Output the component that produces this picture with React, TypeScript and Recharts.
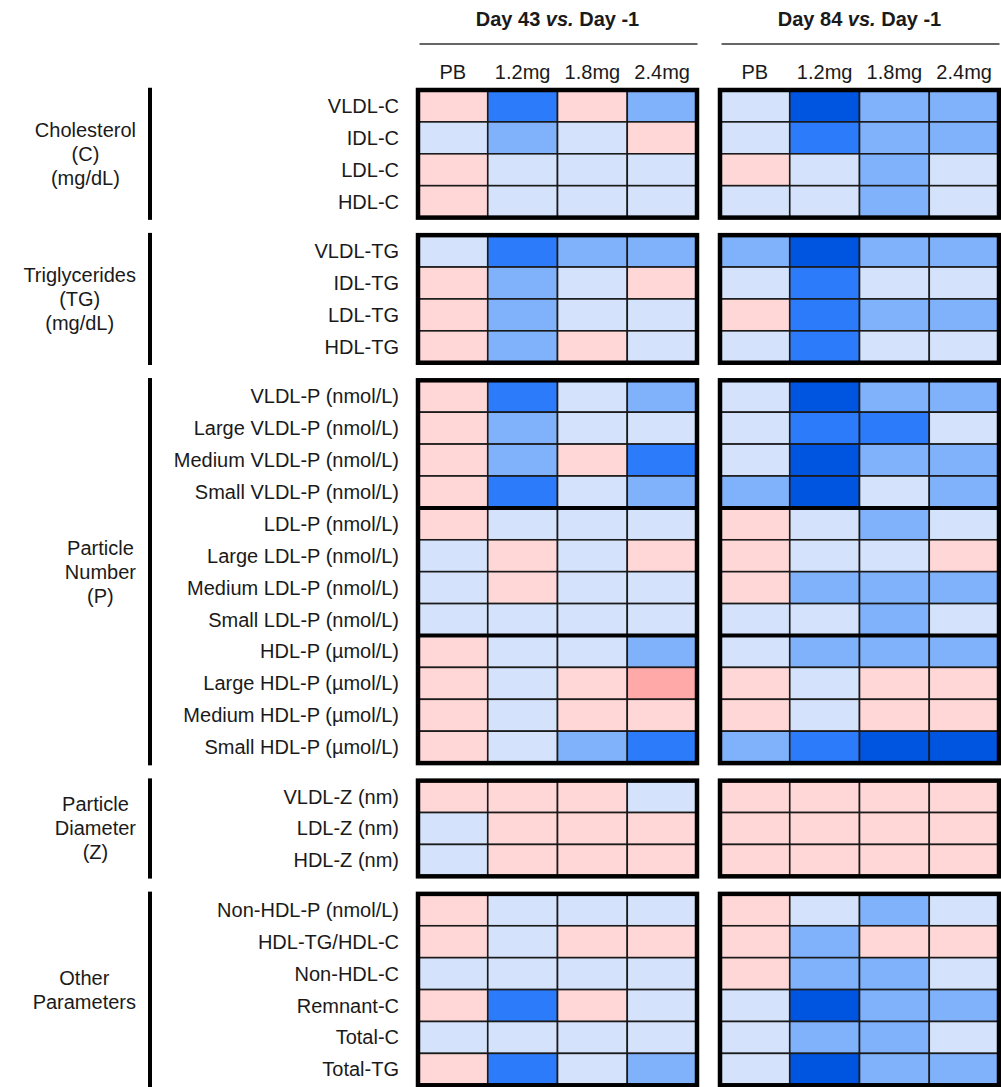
import { Scatter, ScatterChart, XAxis, YAxis } from "recharts";

const FONT = "'Liberation Sans', Arial, Helvetica, sans-serif";
const INK = "#1a1a1a";

const doseColumns = ["PB", "1.2mg", "1.8mg", "2.4mg"];
const comparisonDays = ["Day 43", "Day 84"];
const baselineDay = "Day -1";

const groupTitles = [
  ["Cholesterol", "(C)", "(mg/dL)"],
  ["Triglycerides", "(TG)", "(mg/dL)"],
  ["Particle", "Number", "(P)"],
  ["Particle", "Diameter", "(Z)"],
  ["Other", "Parameters"],
];

const cholesterolRows = ["VLDL-C", "IDL-C", "LDL-C", "HDL-C"];
const triglycerideRows = ["VLDL-TG", "IDL-TG", "LDL-TG", "HDL-TG"];
const particleRows = [
  "VLDL-P (nmol/L)",
  "Large VLDL-P (nmol/L)",
  "Medium VLDL-P (nmol/L)",
  "Small VLDL-P (nmol/L)",
  "LDL-P (nmol/L)",
  "Large LDL-P (nmol/L)",
  "Medium LDL-P (nmol/L)",
  "Small LDL-P (nmol/L)",
  "HDL-P (µmol/L)",
  "Large HDL-P (µmol/L)",
  "Medium HDL-P (µmol/L)",
  "Small HDL-P (µmol/L)",
];
const diameterRows = ["VLDL-Z (nm)", "LDL-Z (nm)", "HDL-Z (nm)"];
const otherRows = [
  "Non-HDL-P (nmol/L)",
  "HDL-TG/HDL-C",
  "Non-HDL-C",
  "Remnant-C",
  "Total-C",
  "Total-TG",
];

// change level: -4 strongest decrease ... -1 slight decrease, 1 slight increase, 2 larger increase
// each row: [PB, 1.2mg, 1.8mg, 2.4mg]
const cholesterolDay43 = [[1, -3, 1, -2], [-1, -2, -1, 1], [1, -1, -1, -1], [1, -1, -1, -1]];
const cholesterolDay84 = [[-1, -4, -2, -2], [-1, -3, -2, -2], [1, -1, -2, -1], [-1, -1, -2, -1]];
const triglycerideDay43 = [[-1, -3, -2, -2], [1, -2, -1, 1], [1, -2, -1, -1], [1, -2, 1, -1]];
const triglycerideDay84 = [[-2, -4, -2, -2], [-1, -3, -1, -1], [1, -3, -2, -2], [-1, -3, -1, -1]];
const particleDay43 = [
  [1, -3, -1, -2],
  [1, -2, -1, -1],
  [1, -2, 1, -3],
  [1, -3, -1, -2],
  [1, -1, -1, -1],
  [-1, 1, -1, 1],
  [-1, 1, -1, -1],
  [-1, -1, -1, -1],
  [1, -1, -1, -2],
  [1, -1, 1, 2],
  [1, -1, 1, 1],
  [1, -1, -2, -3],
];
const particleDay84 = [
  [-1, -4, -2, -2],
  [-1, -3, -3, -1],
  [-1, -4, -2, -2],
  [-2, -4, -1, -2],
  [1, -1, -2, -1],
  [1, -1, -1, 1],
  [1, -2, -2, -2],
  [-1, -1, -2, -1],
  [-1, -2, -2, -2],
  [1, -1, 1, 1],
  [1, -1, 1, 1],
  [-2, -3, -4, -4],
];
const diameterDay43 = [[1, 1, 1, -1], [-1, 1, 1, 1], [-1, 1, 1, 1]];
const diameterDay84 = [[1, 1, 1, 1], [1, 1, 1, 1], [1, 1, 1, 1]];
const otherDay43 = [[1, -1, -1, -1], [1, -1, 1, 1], [-1, -1, -1, -1], [1, -3, 1, -1], [-1, -1, -1, -1], [1, -3, -1, -2]];
const otherDay84 = [[1, -1, -2, -1], [1, -2, 1, 1], [1, -2, -2, -1], [-1, -4, -2, -2], [-1, -2, -2, -1], [-1, -4, -2, -2]];

// rows after which the particle block gets a heavy separator
const particleBreaks = [4, 8];

const groups = [
  { rows: cholesterolRows, values: [cholesterolDay43, cholesterolDay84], breaks: [] as number[] },
  { rows: triglycerideRows, values: [triglycerideDay43, triglycerideDay84], breaks: [] as number[] },
  { rows: particleRows, values: [particleDay43, particleDay84], breaks: particleBreaks },
  { rows: diameterRows, values: [diameterDay43, diameterDay84], breaks: [] as number[] },
  { rows: otherRows, values: [otherDay43, otherDay84], breaks: [] as number[] },
];

function levelColor(level: number) {
  if (level <= -4) return "#0055E0";
  if (level === -3) return "#2B7BFA";
  if (level === -2) return "#80B2FC";
  if (level === -1) return "#D4E3FB";
  if (level === 1) return "#FFD7D7";
  return "#FFA9A9";
}

// layout
const CHART_W = 1001;
const CHART_H = 1087;
const CELL_PX = 69.75;
const ROW_PX = 31.9;
const PANEL_GAP = 23 / CELL_PX;
const GROUP_GAP = 0.55;
const X_MAX = doseColumns.length * 2 + PANEL_GAP;
const COL_AXIS_H = 38;
const TITLE_AXIS_H = 52;
const ROW_AXIS_W = 258;
const GROUP_AXIS_W = 160;

const groupStarts: number[] = [];
let cursor = 0;
groups.forEach((g, i) => {
  groupStarts.push(cursor);
  cursor += g.rows.length + (i < groups.length - 1 ? GROUP_GAP : 0);
});
const Y_MAX = cursor;
const BOTTOM_MARGIN = CHART_H - COL_AXIS_H - TITLE_AXIS_H - Y_MAX * ROW_PX;

const panelX = (p: number) => p * (doseColumns.length + PANEL_GAP);

const cells: { x: number; y: number; level: number }[] = [];
const frames: { x: number; y: number; rows: number }[] = [];
const dividers: { x: number; y: number }[] = [];
const rowTicks: number[] = [];
const rowNames: string[] = [];
const groupTicks: number[] = [];
const rowAnchors: { x: number; y: number }[] = [];

groups.forEach((g, gi) => {
  const start = groupStarts[gi];
  groupTicks.push(start + g.rows.length / 2);
  g.rows.forEach((name, ri) => {
    rowTicks.push(start + ri + 0.5);
    rowNames.push(name);
    rowAnchors.push({ x: 0, y: start + ri + 0.5 });
  });
  comparisonDays.forEach((_, p) => {
    const px = panelX(p);
    g.values[p].forEach((row, ri) => {
      row.forEach((level, c) => {
        cells.push({ x: px + c + 0.5, y: start + ri + 0.5, level });
      });
    });
    frames.push({ x: px + doseColumns.length / 2, y: start + g.rows.length / 2, rows: g.rows.length });
    g.breaks.forEach((b) => dividers.push({ x: px + doseColumns.length / 2, y: start + b }));
  });
});

const colTicks: number[] = [];
const colNames: string[] = [];
comparisonDays.forEach((_, p) => {
  doseColumns.forEach((name, c) => {
    colTicks.push(panelX(p) + c + 0.5);
    colNames.push(name);
  });
});
const titleTicks = comparisonDays.map((_, p) => panelX(p) + doseColumns.length / 2);
const titleAnchors = titleTicks.map((x) => ({ x, y: 0 }));

let ctx: CanvasRenderingContext2D | null = null;
function textWidth(s: string) {
  if (!ctx) ctx = document.createElement("canvas").getContext("2d");
  if (!ctx) return s.length * 10;
  ctx.font = "20px 'Liberation Sans', Arial, sans-serif";
  return ctx.measureText(s).width;
}

function CellShape(props: any) {
  const { cx, cy, payload } = props;
  return (
    <rect
      x={cx - CELL_PX / 2}
      y={cy - ROW_PX / 2}
      width={CELL_PX}
      height={ROW_PX}
      fill={levelColor(payload.level)}
      stroke={INK}
      strokeWidth={1.6}
    />
  );
}

function FrameShape(props: any) {
  const { cx, cy, payload } = props;
  const w = doseColumns.length * CELL_PX;
  const h = payload.rows * ROW_PX;
  return <rect x={cx - w / 2} y={cy - h / 2} width={w} height={h} fill="none" stroke="#000" strokeWidth={4.5} />;
}

function DividerShape(props: any) {
  const { cx, cy } = props;
  const half = (doseColumns.length * CELL_PX) / 2;
  return <line x1={cx - half} x2={cx + half} y1={cy} y2={cy} stroke="#000" strokeWidth={4} />;
}

function EmptyShape() {
  return <g />;
}

function ColumnTick(props: any) {
  const { x, y, index } = props;
  return (
    <text x={x} y={y - 11} textAnchor="middle" fontSize={20} fontFamily={FONT} fill={INK}>
      {colNames[index]}
    </text>
  );
}

function TitleTick(props: any) {
  const { x, y, index } = props;
  return (
    <g>
      <text x={x} y={y - 26} textAnchor="middle" fontSize={20} fontWeight="bold" fontFamily={FONT} fill={INK}>
        {comparisonDays[index]}{" "}
        <tspan fontStyle="italic">vs.</tspan>
        {" "}{baselineDay}
      </text>
      <line x1={x - 138} x2={x + 140} y1={y - 8} y2={y - 8} stroke="#333" strokeWidth={1.5} />
    </g>
  );
}

function RowTick(props: any) {
  const { x, y, index } = props;
  return (
    <text x={x - 19} y={y + 7} textAnchor="end" fontSize={20} fontFamily={FONT} fill={INK}>
      {rowNames[index]}
    </text>
  );
}

function GroupTick(props: any) {
  const { x, y, index } = props;
  const lines = groupTitles[index];
  const rows = groups[index].rows.length;
  const half = (rows * ROW_PX) / 2 + 2.25;
  const widest = Math.max(...lines.map(textWidth));
  const center = x - 24 - widest / 2;
  const top = y - ((lines.length - 1) * 24) / 2;
  return (
    <g>
      <rect x={x - 12} y={y - half} width={4} height={half * 2} fill="#000" />
      {lines.map((line, i) => (
        <text key={i} x={center} y={top + i * 24 + 7} textAnchor="middle" fontSize={20} fontFamily={FONT} fill={INK}>
          {line}
        </text>
      ))}
    </g>
  );
}

export default function App() {
  return (
    <div style={{ position: "absolute", left: 0, top: 0, background: "#fff" }}>
      <ScatterChart
        width={CHART_W}
        height={CHART_H}
        margin={{ top: 0, right: 2, bottom: BOTTOM_MARGIN, left: 0 }}
      >
        <XAxis
          xAxisId="cols"
          type="number"
          dataKey="x"
          orientation="top"
          domain={[0, X_MAX]}
          ticks={colTicks}
          interval={0}
          height={COL_AXIS_H}
          axisLine={false}
          tickLine={false}
          tickSize={0}
          tickMargin={0}
          tick={ColumnTick}
        />
        <XAxis
          xAxisId="titles"
          type="number"
          dataKey="x"
          orientation="top"
          domain={[0, X_MAX]}
          ticks={titleTicks}
          interval={0}
          height={TITLE_AXIS_H}
          axisLine={false}
          tickLine={false}
          tickSize={0}
          tickMargin={0}
          tick={TitleTick}
        />
        <YAxis
          yAxisId="inner"
          type="number"
          dataKey="y"
          domain={[0, Y_MAX]}
          reversed
          ticks={rowTicks}
          interval={0}
          width={ROW_AXIS_W}
          axisLine={false}
          tickLine={false}
          tickSize={0}
          tickMargin={0}
          tick={RowTick}
        />
        <YAxis
          yAxisId="outer"
          type="number"
          dataKey="y"
          domain={[0, Y_MAX]}
          reversed
          ticks={groupTicks}
          interval={0}
          width={GROUP_AXIS_W}
          axisLine={false}
          tickLine={false}
          tickSize={0}
          tickMargin={0}
          tick={GroupTick}
        />
        <Scatter data={cells} xAxisId="cols" yAxisId="outer" shape={CellShape} isAnimationActive={false} />
        <Scatter data={dividers} xAxisId="cols" yAxisId="outer" shape={DividerShape} isAnimationActive={false} />
        <Scatter data={frames} xAxisId="cols" yAxisId="outer" shape={FrameShape} isAnimationActive={false} />
        <Scatter data={rowAnchors} xAxisId="cols" yAxisId="inner" shape={EmptyShape} isAnimationActive={false} />
        <Scatter data={titleAnchors} xAxisId="titles" yAxisId="outer" shape={EmptyShape} isAnimationActive={false} />
      </ScatterChart>
    </div>
  );
}
